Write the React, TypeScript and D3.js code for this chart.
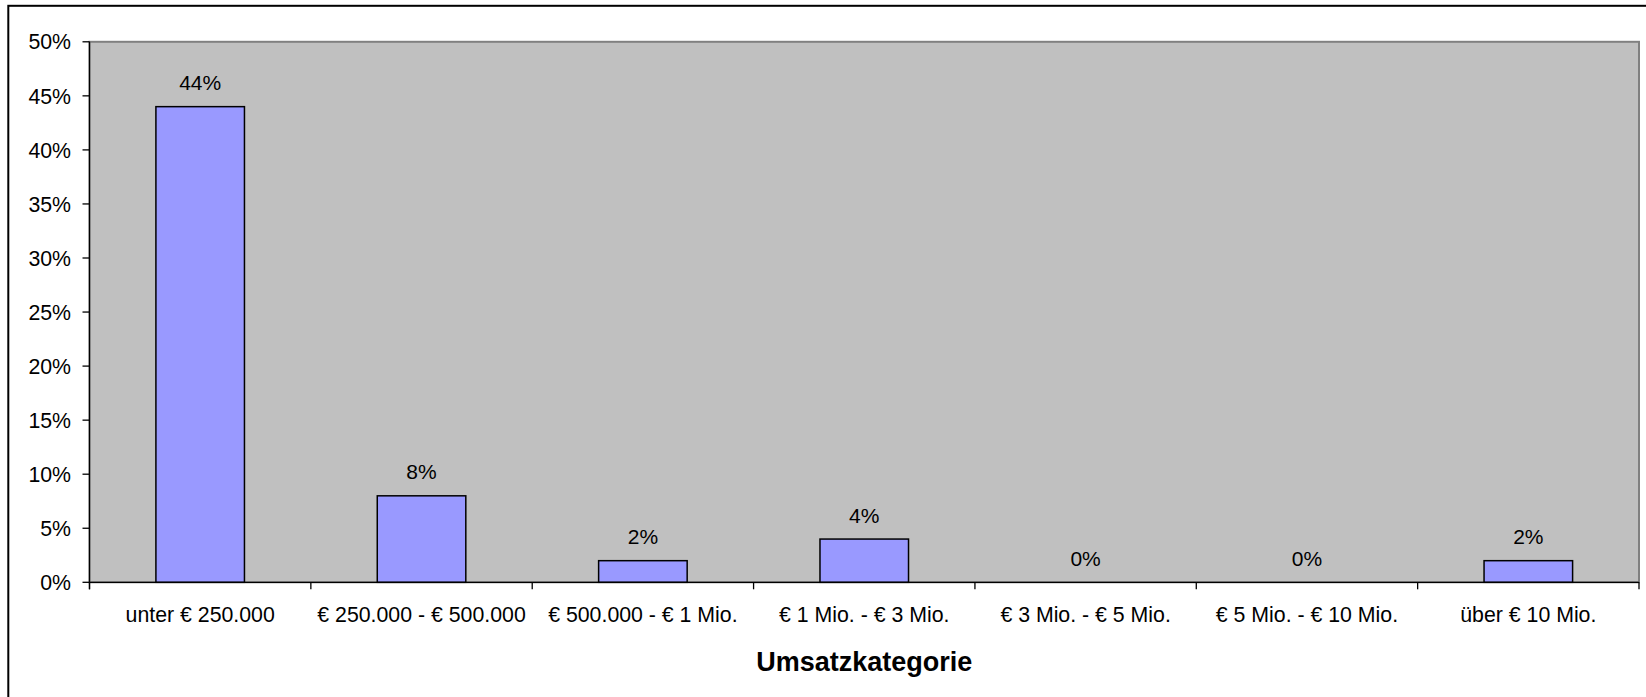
import React from "react";
import * as d3 from "d3";

const categories: string[] = [
  "unter € 250.000",
  "€ 250.000 - € 500.000",
  "€ 500.000 - € 1 Mio.",
  "€ 1 Mio. - € 3 Mio.",
  "€ 3 Mio. - € 5 Mio.",
  "€ 5 Mio. - € 10 Mio.",
  "über € 10 Mio.",
];
const values: number[] = [0.44, 0.08, 0.02, 0.04, 0, 0, 0.02];
const yTicks: number[] = [0, 0.05, 0.1, 0.15, 0.2, 0.25, 0.3, 0.35, 0.4, 0.45, 0.5];
const axisTitle = "Umsatzkategorie";

const W = 1646;
const H = 697;
const plot = { left: 89.5, right: 1639, top: 41.8, bottom: 582.3 };
const FONT = "'Liberation Sans', Arial, Helvetica, sans-serif";

export default function App() {
  const x = d3
    .scaleBand<string>()
    .domain(categories)
    .range([plot.left, plot.right])
    .padding(0);
  const y = d3.scaleLinear().domain([0, 0.5]).range([plot.bottom, plot.top]);
  const fmt = d3.format(".0%");
  const step = x.step();
  const barW = step / 2.5;
  const boundaries = d3.range(categories.length + 1).map((i) => plot.left + i * step);

  return (
    <svg
      width={W}
      height={H}
      style={{ position: "absolute", left: 0, top: 0, background: "#fff" }}
      fontFamily={FONT}
    >
      {/* outer chart frame */}
      <rect x={8.3} y={5.8} width={1700} height={800} fill="#fff" stroke="#000" strokeWidth={2} />
      {/* plot area */}
      <rect
        x={plot.left}
        y={plot.top}
        width={plot.right - plot.left}
        height={plot.bottom - plot.top}
        fill="#C0C0C0"
        stroke="#808080"
        strokeWidth={2}
      />
      {/* bars */}
      {categories.map((c, i) => {
        const cx = (x(c) as number) + step / 2;
        const v = values[i];
        return (
          <g key={c}>
            {v > 0 && (
              <rect
                x={cx - barW / 2}
                y={y(v)}
                width={barW}
                height={y(0) - y(v)}
                fill="#9999FF"
                stroke="#000"
                strokeWidth={1.5}
              />
            )}
            <text x={cx} y={y(v) - 16.5} textAnchor="middle" fontSize={21} fill="#000">
              {fmt(v)}
            </text>
          </g>
        );
      })}
      {/* y axis */}
      <line x1={plot.left} x2={plot.left} y1={plot.top} y2={plot.bottom + 7} stroke="#000" strokeWidth={1.3} />
      {yTicks.map((t) => (
        <g key={t}>
          <line x1={plot.left - 7} x2={plot.left} y1={y(t)} y2={y(t)} stroke="#000" strokeWidth={1.3} />
          <text x={71} y={y(t)} dy="0.36em" textAnchor="end" fontSize={21.3} fill="#000">
            {fmt(t)}
          </text>
        </g>
      ))}
      {/* x axis */}
      <line x1={plot.left} x2={plot.right} y1={plot.bottom} y2={plot.bottom} stroke="#000" strokeWidth={1.3} />
      {boundaries.map((bx, i) => (
        <line key={i} x1={bx} x2={bx} y1={plot.bottom} y2={plot.bottom + 7} stroke="#000" strokeWidth={1.3} />
      ))}
      {categories.map((c) => (
        <text
          key={c}
          x={(x(c) as number) + step / 2}
          y={621.5}
          textAnchor="middle"
          fontSize={21.3}
          fill="#000"
        >
          {c}
        </text>
      ))}
      <text
        x={(plot.left + plot.right) / 2}
        y={671}
        textAnchor="middle"
        fontSize={27}
        fontWeight="bold"
        fill="#000"
      >
        {axisTitle}
      </text>
    </svg>
  );
}
